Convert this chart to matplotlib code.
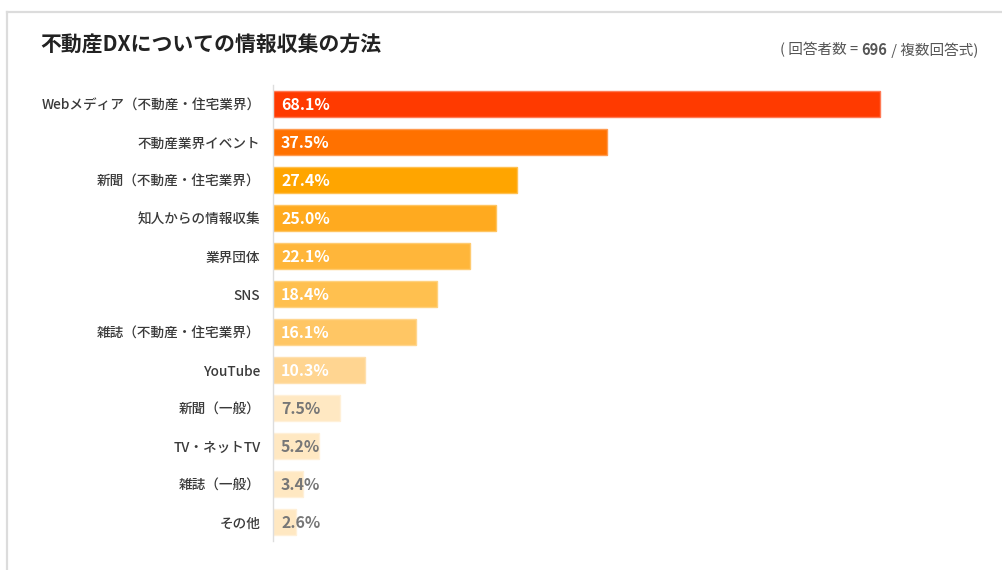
import matplotlib
matplotlib.use('Agg')
import matplotlib.pyplot as plt
from matplotlib.lines import Line2D

plt.rcParams['font.family'] = ['Noto Sans CJK JP', 'DejaVu Sans']

# 情報収集の方法（複数回答）
labels = ['Webメディア（不動産・住宅業界）', '不動産業界イベント', '新聞（不動産・住宅業界）',
          '知人からの情報収集', '業界団体', 'SNS', '雑誌（不動産・住宅業界）', 'YouTube',
          '新聞（一般）', 'TV・ネットTV', '雑誌（一般）', 'その他']
values = [68.1, 37.5, 27.4, 25.0, 22.1, 18.4, 16.1, 10.3, 7.5, 5.2, 3.4, 2.6]
colors = ['#ff3a00', '#ff7100', '#ffa500', '#ffaa1f', '#ffb63a', '#ffc04f',
          '#ffc664', '#ffd591', '#ffe8c2', '#ffe8c2', '#ffe8c2', '#ffe8c2']
edges = ['#ff7a55', '#ff9a50', '#ffc050', '#ffc460', '#ffcb70', '#ffd27f',
         '#ffd68f', '#ffe0ae', '#fff0d8', '#fff0d8', '#fff0d8', '#fff0d8']
n_respondents = 696

fig = plt.figure(figsize=(10.03, 5.70), dpi=100)
W, H = 1003, 570

# card outline (left and top edges)
fig.add_artist(Line2D([7.5 / W, 7.5 / W], [0, 1 - 11.5 / H], transform=fig.transFigure,
                      color='#dcdcdc', lw=1.6))
fig.add_artist(Line2D([7.5 / W, 1], [1 - 11.5 / H, 1 - 11.5 / H], transform=fig.transFigure,
                      color='#dcdcdc', lw=1.6))

ax = fig.add_axes([273 / W, (H - 541) / H, (986 - 273) / W, 456 / H])
y = list(range(len(labels)))
ax.barh(y, values, height=0.68, color=colors, edgecolor=edges, linewidth=1)
ax.set_xlim(0, 80)
ax.set_ylim(len(labels) - 0.5, -0.5)
ax.set_yticks(y)
ax.set_yticklabels(labels, fontsize=9.8, color='#3a3a3a', fontweight='medium')
ax.tick_params(axis='y', length=0, pad=9)
ax.set_xticks([])
for s in ['top', 'right', 'bottom']:
    ax.spines[s].set_visible(False)
ax.spines['left'].set_color('#dddddd')
ax.spines['left'].set_linewidth(1)

for i, v in enumerate(values):
    c = 'white' if i < 8 else '#777777'
    ax.text(0.9, i + 0.03, f'{v:.1f}%', va='center', ha='left', fontsize=11.5,
            fontweight='bold', color=c)

fig.text(40 / W, 1 - 45 / H, '不動産DXについての情報収集の方法', fontsize=15,
         fontweight='bold', color='#222222', va='center', ha='left')

# subtitle, right aligned, built from pieces so the count can be bold
fig.canvas.draw()
r = fig.canvas.get_renderer()
xr = 978 / W
yy = 1 - 50 / H
parts = [(' / 複数回答式)', 'normal'), (str(n_respondents), 'bold'), ('( 回答者数 = ', 'normal')]
for txt, wt in parts:
    t = fig.text(xr, yy, txt, fontsize=10.5, color='#555555', fontweight=wt,
                 ha='right', va='center')
    bb = t.get_window_extent(renderer=r)
    xr -= bb.width / W

fig.savefig('out.png', dpi=100, facecolor='white')
